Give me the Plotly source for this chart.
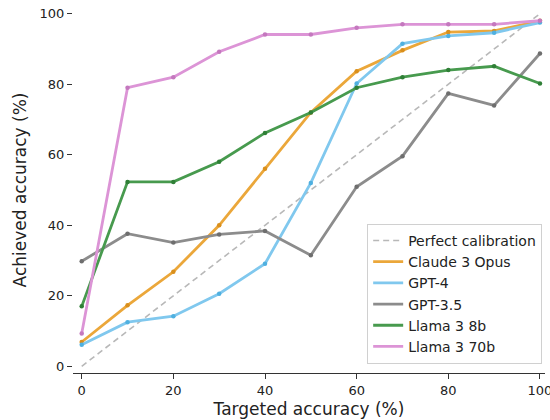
import plotly.graph_objects as go

targets = [0, 10, 20, 30, 40, 50, 60, 70, 80, 90, 100]
claude3_opus = [6.9, 17.3, 26.8, 40.0, 56.0, 72.0, 83.7, 89.6, 94.8, 95.1, 98.0]
gpt4 = [6.1, 12.5, 14.2, 20.6, 29.1, 52.0, 80.2, 91.5, 93.7, 94.6, 97.5]
gpt35 = [29.8, 37.6, 35.1, 37.4, 38.4, 31.5, 50.9, 59.6, 77.4, 74.0, 88.7]
llama3_8b = [17.0, 52.3, 52.3, 58.0, 66.2, 72.0, 79.0, 82.0, 84.0, 85.1, 80.2]
llama3_70b = [9.3, 79.0, 82.0, 89.2, 94.1, 94.1, 96.0, 97.0, 97.0, 97.0, 98.0]
calib = [0, 100]

series = [
    ("Claude 3 Opus", claude3_opus, "#eba73a", "#d98f1c"),
    ("GPT-4", gpt4, "#80c8ee", "#4fb0e0"),
    ("GPT-3.5", gpt35, "#8c8c8c", "#6e6e6e"),
    ("Llama 3 8b", llama3_8b, "#479a4e", "#2f7f36"),
    ("Llama 3 70b", llama3_70b, "#dc94d6", "#c478be"),
]

fig = go.Figure()
fig.add_trace(go.Scatter(x=calib, y=calib, mode="lines", name="Perfect calibration",
                         line=dict(color="#b8b8b8", width=1.6, dash="6px,4px")))
for name, vals, col, mcol in series:
    fig.add_trace(go.Scatter(x=targets, y=vals, mode="lines", name=name,
                             legendgroup=name, line=dict(color=col, width=2.8)))
    fig.add_trace(go.Scatter(x=targets, y=vals, mode="markers", name=name,
                             legendgroup=name, showlegend=False, hoverinfo="skip",
                             marker=dict(color=mcol, size=4.5)))

font = "DejaVu Sans, sans-serif"
fig.update_layout(
    width=550, height=420,
    margin=dict(l=73, r=5, t=7, b=47, autoexpand=False),
    paper_bgcolor="white", plot_bgcolor="white",
    font=dict(family=font, color="#222222", size=12),
    showlegend=True,
    legend=dict(x=0.994, y=0.025, xanchor="right", yanchor="bottom",
                bordercolor="#d0d0d0", borderwidth=1, bgcolor="rgba(255,255,255,0.85)",
                font=dict(size=14, color="#222222"), itemwidth=30, tracegroupgap=0),
    xaxis=dict(range=[-1.9, 101.1], tickvals=[0, 20, 40, 60, 80, 100],
               showgrid=False, zeroline=False, showline=True, linecolor="#333333", linewidth=1.2,
               ticks="outside", ticklen=5, tickcolor="#333333", tickfont=dict(size=13),
               automargin=False, ticklabeloverflow="allow",
               title=dict(text="Targeted accuracy (%)", font=dict(size=17), standoff=6)),
    yaxis=dict(range=[-1.9, 101.9], tickvals=[0, 20, 40, 60, 80, 100],
               showgrid=False, zeroline=False, showline=False,
               ticks="outside", ticklen=5, tickcolor="#333333", tickfont=dict(size=13),
               automargin=False, ticklabeloverflow="allow",
               title=dict(text="Achieved accuracy (%)", font=dict(size=17), standoff=8)),
)

fig.write_html("out.html", config={"displayModeBar": False},
               post_script="document.body.style.margin='0';document.body.style.overflow='hidden';")
